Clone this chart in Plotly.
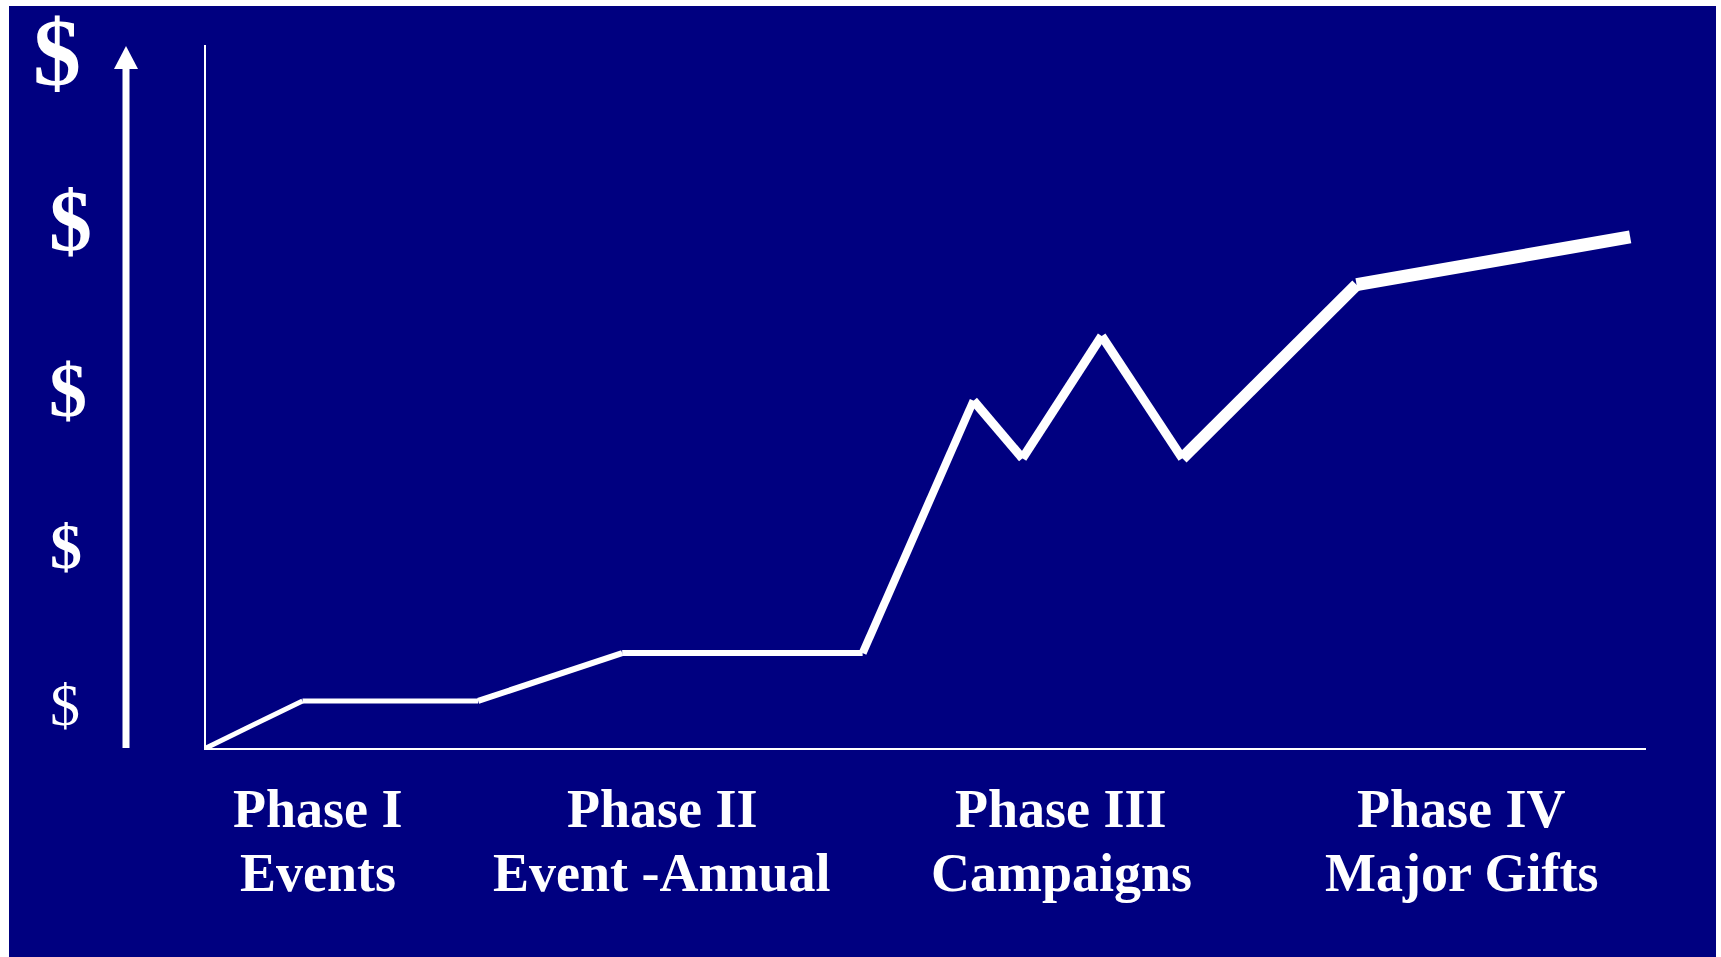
import plotly.graph_objects as go

W, H = 1721, 957

# Data (arbitrary units: x 0-100 along the horizontal axis, y 0-100 up the vertical axis)
x_vals = [0, 6.7, 18.9, 28.9, 45.6, 53.3, 56.7, 62.2, 67.8, 79.9, 98.9]
y_vals = [0, 6.7, 6.7, 13.5, 13.5, 49.4, 41.2, 58.6, 41.2, 65.9, 72.7]
seg_widths = [5, 5, 6, 6, 8, 9, 9, 9, 12, 13]

phase_titles = ["Phase I", "Phase II", "Phase III", "Phase IV"]
phase_subtitles = ["Events", "Event -Annual", "Campaigns", "Major Gifts"]
phase_centers_px = [318, 662, 1061, 1461]

dollar_sizes = [96, 86, 76, 64, 60]
dollar_bold = [True, True, True, True, False]
dollar_pos_px = [(57, 52), (70, 221), (68, 390), (66, 546), (65, 705)]

NAVY = "#000080"
FONT = "Liberation Serif"

def px(x):
    return x / W

def py(y):
    return 1 - y / H

fig = go.Figure()
for i in range(len(x_vals) - 1):
    fig.add_trace(go.Scatter(
        x=x_vals[i:i + 2], y=y_vals[i:i + 2], mode="lines",
        line=dict(color="white", width=seg_widths[i]),
        hoverinfo="skip", showlegend=False))

x0, x1 = 206, 1646
y_top, y_bot = 45, 748

fig.update_layout(
    width=W, height=H,
    margin=dict(l=0, r=0, t=0, b=0),
    paper_bgcolor="white",
    plot_bgcolor="rgba(0,0,0,0)",
    showlegend=False,
    xaxis=dict(domain=[px(x0), px(x1)], range=[0, 100], showgrid=False,
               zeroline=False, showticklabels=False, ticks="",
               showline=True, linecolor="white", linewidth=2),
    yaxis=dict(domain=[py(y_bot), py(y_top)], range=[0, 100], showgrid=False,
               zeroline=False, showticklabels=False, ticks="",
               showline=True, linecolor="white", linewidth=2),
)

shapes = [
    dict(type="rect", xref="paper", yref="paper", x0=px(9), x1=px(1716),
         y0=py(957), y1=py(6), fillcolor=NAVY, line=dict(width=0), layer="below"),
    dict(type="rect", xref="paper", yref="paper", x0=px(122.5), x1=px(129.5),
         y0=py(748), y1=py(66), fillcolor="white", line=dict(width=0)),
    dict(type="path", xref="paper", yref="paper",
         path=f"M {px(114)} {py(69)} L {px(126)} {py(46)} L {px(138)} {py(69)} Z",
         fillcolor="white", line=dict(width=0)),
]
fig.update_layout(shapes=shapes)

annotations = []
for t, s, cx in zip(phase_titles, phase_subtitles, phase_centers_px):
    annotations.append(dict(text=f"<b>{t}</b>", x=px(cx), y=py(809), xref="paper", yref="paper",
                            xanchor="center", yanchor="middle", showarrow=False,
                            font=dict(family=FONT, size=54, color="white")))
    annotations.append(dict(text=f"<b>{s}</b>", x=px(cx), y=py(873), xref="paper", yref="paper",
                            xanchor="center", yanchor="middle", showarrow=False,
                            font=dict(family=FONT, size=54, color="white")))
for size, bold, (cx, cy) in zip(dollar_sizes, dollar_bold, dollar_pos_px):
    annotations.append(dict(text="<b>$</b>" if bold else "$", x=px(cx), y=py(cy),
                            xref="paper", yref="paper", xanchor="center", yanchor="middle",
                            showarrow=False, font=dict(family=FONT, size=size, color="white")))
fig.update_layout(annotations=annotations)

fig.write_html("out.html")
